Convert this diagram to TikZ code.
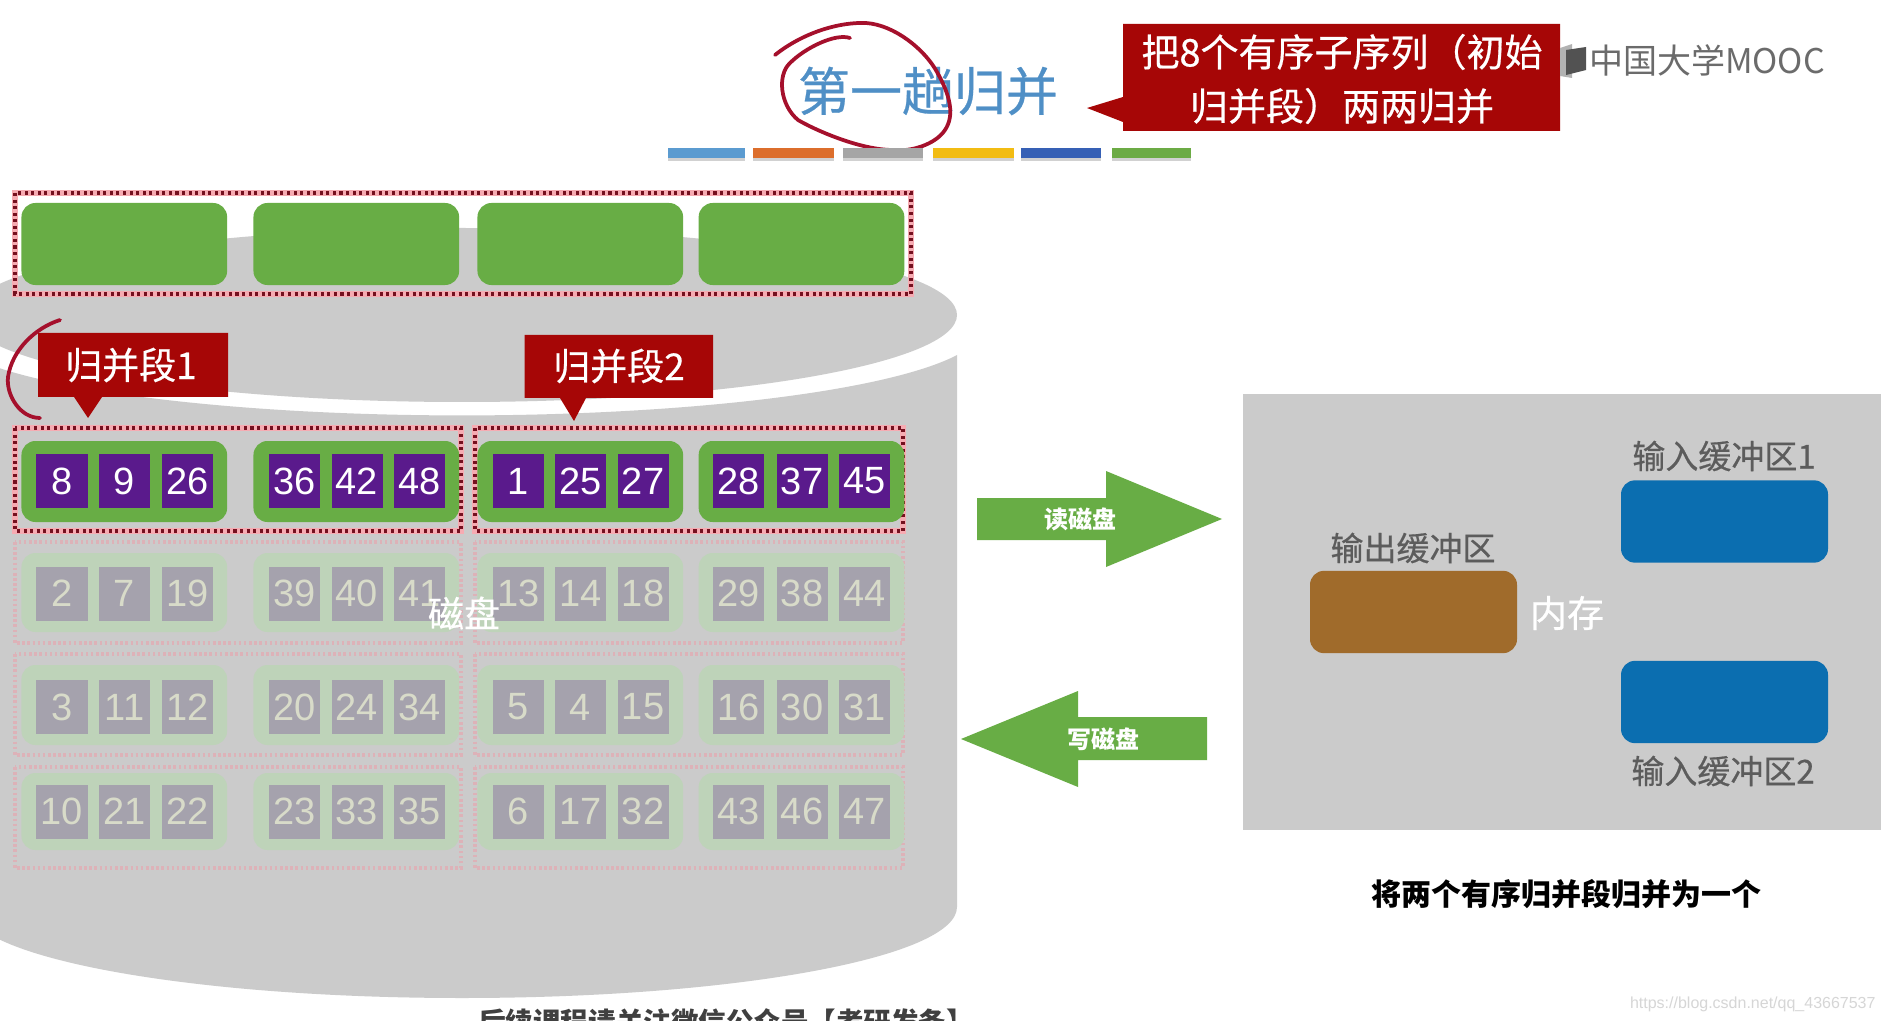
\documentclass[tikz,border=0pt]{standalone}
\usepackage{fontspec}
\setmainfont{Liberation Sans}
\newfontfamily\cjk{Noto Sans CJK SC}
\newfontfamily\cjkm[FakeBold=0.5]{Noto Sans CJK SC}
\newcommand\pxf[1]{\fontsize{\the\dimexpr #1pt*8536/10000\relax}{\the\dimexpr #1pt*9000/10000\relax}\selectfont}
\definecolor{diskgray}{HTML}{CBCBCB}
\definecolor{mygreen}{HTML}{68AD45}
\definecolor{mypurple}{HTML}{5A1A8C}
\definecolor{fgreen}{HTML}{BED3B9}
\definecolor{fsq}{HTML}{A5A2AD}
\definecolor{ftxt}{HTML}{D8DBC9}
\definecolor{myred}{HTML}{A60606}
\definecolor{inkred}{HTML}{A5102C}
\definecolor{myblue}{HTML}{0B6EB0}
\definecolor{mybrown}{HTML}{A06B2B}
\definecolor{dotdark}{HTML}{75101F}
\definecolor{dotpink}{HTML}{F6ABB2}
\definecolor{dotfade}{HTML}{DDB2B8}
\definecolor{lbl}{HTML}{5C5C5C}
\definecolor{titleblue}{HTML}{4F8FC6}
\tikzset{
  base/.style={inner sep=0pt,outer sep=0pt,rectangle},
  gboxA/.style={base,fill=mygreen,rounded corners=0.42cm,minimum width=6.17cm},
  gboxB/.style={base,fill=fgreen,rounded corners=0.42cm,minimum width=6.17cm},
  sqA/.style={base,fill=mypurple,minimum width=1.53cm,minimum height=1.62cm,text=white,font=\pxf{38}},
  sqB/.style={base,fill=fsq,minimum width=1.53cm,minimum height=1.62cm,text=ftxt,font=\pxf{38}},
  halo/.style={draw=dotpink,line width=4.6pt},
  dots/.style={draw=dotdark,line width=3pt,dash pattern=on 2.6pt off 3pt},
  fdots/.style={draw=dotfade,line width=3pt,dash pattern=on 2.2pt off 2.2pt},
  ink/.style={draw=inkred,line width=3.2pt,line cap=round,line join=round},
  call/.style={fill=myred},
  calltxt/.style={base,text=white,font=\cjkm\pxf{37}},
  lab/.style={base,text=lbl,font=\cjkm\pxf{33}},
  arr/.style={fill=mygreen},
  arrtxt/.style={base,text=white,font=\cjk\bfseries\pxf{24}},
  buf/.style={base,rounded corners=0.42cm,minimum width=6.21cm,minimum height=2.47cm},
}
\newcommand\diskrow[6]{%
  \foreach \gx/\ax/\bx/\cx/\va/\vb/\vc in {#6}{
    \node[gbox#5,minimum height=#3*0.03cm] (g#1\gx) at (\gx,#2) {};
    \node[sq#5] (num\va) at (\ax,#4) {\va};
    \node[sq#5] (num\vb) at (\bx,#4) {\vb};
    \node[sq#5] (num\vc) at (\cx,#4) {\vc};
  }}
\begin{document}
\begin{tikzpicture}[x=0.03cm,y=-0.03cm]
\useasboundingbox (0,0) rectangle (1881,1021);
\clip (0,0) rectangle (1881,1021);
\fill[white] (0,0) rectangle (1881,1021);
% disk
\fill[diskgray] (462,315) ellipse [x radius=495,y radius=87];
\fill[diskgray] (957,355) -- (957,907) arc [start angle=0,end angle=180,x radius=495,y radius=91]
  -- (-33,355) arc [start angle=162.2,end angle=17.8,x radius=520,y radius=87] -- cycle;
% top row
\path[halo] (15,193) rectangle (911,294);
\path[dots] (15,193) rectangle (911,294);
\foreach \gx in {124.3,356.3,580.3,801.5}
  \node[gboxA,minimum height=2.46cm] (top\gx) at (\gx,244) {};
% frames of rows
\foreach \ya/\yb in {542/643,654/755,767/868}{
  \path[fdots] (15,\ya) rectangle (461,\yb);
  \path[fdots] (475,\ya) rectangle (903,\yb);
}
\path[halo] (15,428) rectangle (461,531);
\path[halo] (475,428) rectangle (903,531);
\path[dots] (15,428) rectangle (461,531);
\path[dots] (475,428) rectangle (903,531);
% rows
\diskrow{a}{481.5}{81}{481}{A}{124.3/62/124.5/187.5/8/9/26,356.3/294.5/357/419.5/36/42/48,580.3/518.5/580.5/643/1/25/27,801.5/738.5/802/864.5/28/37/45}
\diskrow{b}{592.5}{79}{593.5}{B}{124.3/62/124.5/187.5/2/7/19,356.3/294.5/357/419.5/39/40/41,580.3/518.5/580.5/643/13/14/18,801.5/738.5/802/864.5/29/38/44}
\diskrow{c}{705}{80}{707}{B}{124.3/62/124.5/187.5/3/11/12,356.3/294.5/357/419.5/20/24/34,580.3/518.5/580.5/643/5/4/15,801.5/738.5/802/864.5/16/30/31}
\diskrow{d}{811.5}{77}{811.5}{B}{124.3/62/124.5/187.5/10/21/22,356.3/294.5/357/419.5/23/33/35,580.3/518.5/580.5/643/6/17/32,801.5/738.5/802/864.5/43/46/47}
\node[base,text=white,font=\cjkm\pxf{36}] (disk) at (464,613) {磁盘};
% callouts on disk
\fill[call] (38,333) -- (228,333) -- (228,397) -- (102,397) -- (88,418) -- (74,397) -- (38,397) -- cycle;
\node[calltxt] (seg1) at (131,365) {归并段1};
\fill[call] (524.5,335) -- (713,335) -- (713,398) -- (586,398) -- (574,421) -- (560,398) -- (524.5,398) -- cycle;
\node[calltxt] (seg2) at (619,366) {归并段2};
\draw[ink] (60,320) .. controls (35,328) and (12,350) .. (8,377) .. controls (6,395) and (20,418) .. (40,418);
% title
\node[base,text=titleblue,font=\cjkm\pxf{52}] (title) at (928,91) {第一趟归并};
\draw[ink] (775,55) .. controls (800,35) and (835,22) .. (866,23)
  .. controls (895,25) and (925,50) .. (937,72)
  .. controls (950,95) and (955,115) .. (945,130)
  .. controls (935,145) and (910,152) .. (893,150)
  .. controls (860,150) and (815,130) .. (798,120)
  .. controls (780,105) and (777,75) .. (790,63)
  .. controls (805,48) and (835,33) .. (850,38);
% bars
\foreach \xa/\xb/\c in {668/745/5B9BD0,753/834/DC6E2C,843/923/A5A5A5,933/1014/F2BC13,1021/1101/3660B5,1112/1191/6CAB45}{
  \definecolor{cb}{HTML}{\c}
  \fill[black!18] (\xa,156) rectangle (\xb,161);
  \fill[cb] (\xa,148) rectangle (\xb,158);
}
% top callout
\fill[call] (1123,24) -- (1560,24) -- (1560,131) -- (1123,131) -- (1123,122) -- (1087,108) -- (1123,97) -- cycle;
\node[calltxt,font=\cjkm\pxf{38}] (desc1) at (1342,52) {把8个有序子序列（初始};
\node[calltxt,font=\cjkm\pxf{38}] (desc2) at (1342,106) {归并段）两两归并};
% logo
\fill[black!30] (1560,48) -- (1572,44) -- (1572,78) -- (1560,76) -- cycle;
\fill[black!68] (1566,50) -- (1586,47) -- (1586,70) -- (1566,75) -- cycle;
\node[base,text=black!58,font=\cjk\pxf{34},anchor=west] (mooc) at (1589,60) {中国大学MOOC};
% arrows
\fill[arr] (977,498) -- (1106,498) -- (1106,471) -- (1222,519) -- (1106,567) -- (1106,540) -- (977,540) -- cycle;
\node[arrtxt] (read) at (1080,519) {读磁盘};
\fill[arr] (1207,717) -- (1078,717) -- (1078,691) -- (961,739) -- (1078,787) -- (1078,760) -- (1207,760) -- cycle;
\node[arrtxt] (write) at (1103,739) {写磁盘};
% memory
\fill[diskgray] (1243,394) rectangle (1881,830);
\node[buf,fill=myblue] (in1) at (1724.5,521.5) {};
\node[buf,fill=myblue] (in2) at (1724.5,702) {};
\node[buf,fill=mybrown] (out) at (1413.5,612) {};
\node[lab] (in1l) at (1724,456) {输入缓冲区1};
\node[lab] (outl) at (1413,548) {输出缓冲区};
\node[lab] (in2l) at (1723,771) {输入缓冲区2};
\node[base,text=white,font=\cjkm\pxf{37}] (mem) at (1567,613) {内存};
\node[base,text=black,font=\cjk\bfseries\pxf{30}] (cap) at (1566,894) {将两个有序归并段归并为一个};
\node[base,text=black!75,font=\cjk\bfseries\pxf{27.5}] (foot) at (726,1022) {后续课程请关注微信公众号【考研发条】};
\node[base,text=black!16,font=\pxf{16},anchor=west] (url) at (1630,1004) {https://blog.csdn.net/qq\_43667537};
\end{tikzpicture}
\end{document}
